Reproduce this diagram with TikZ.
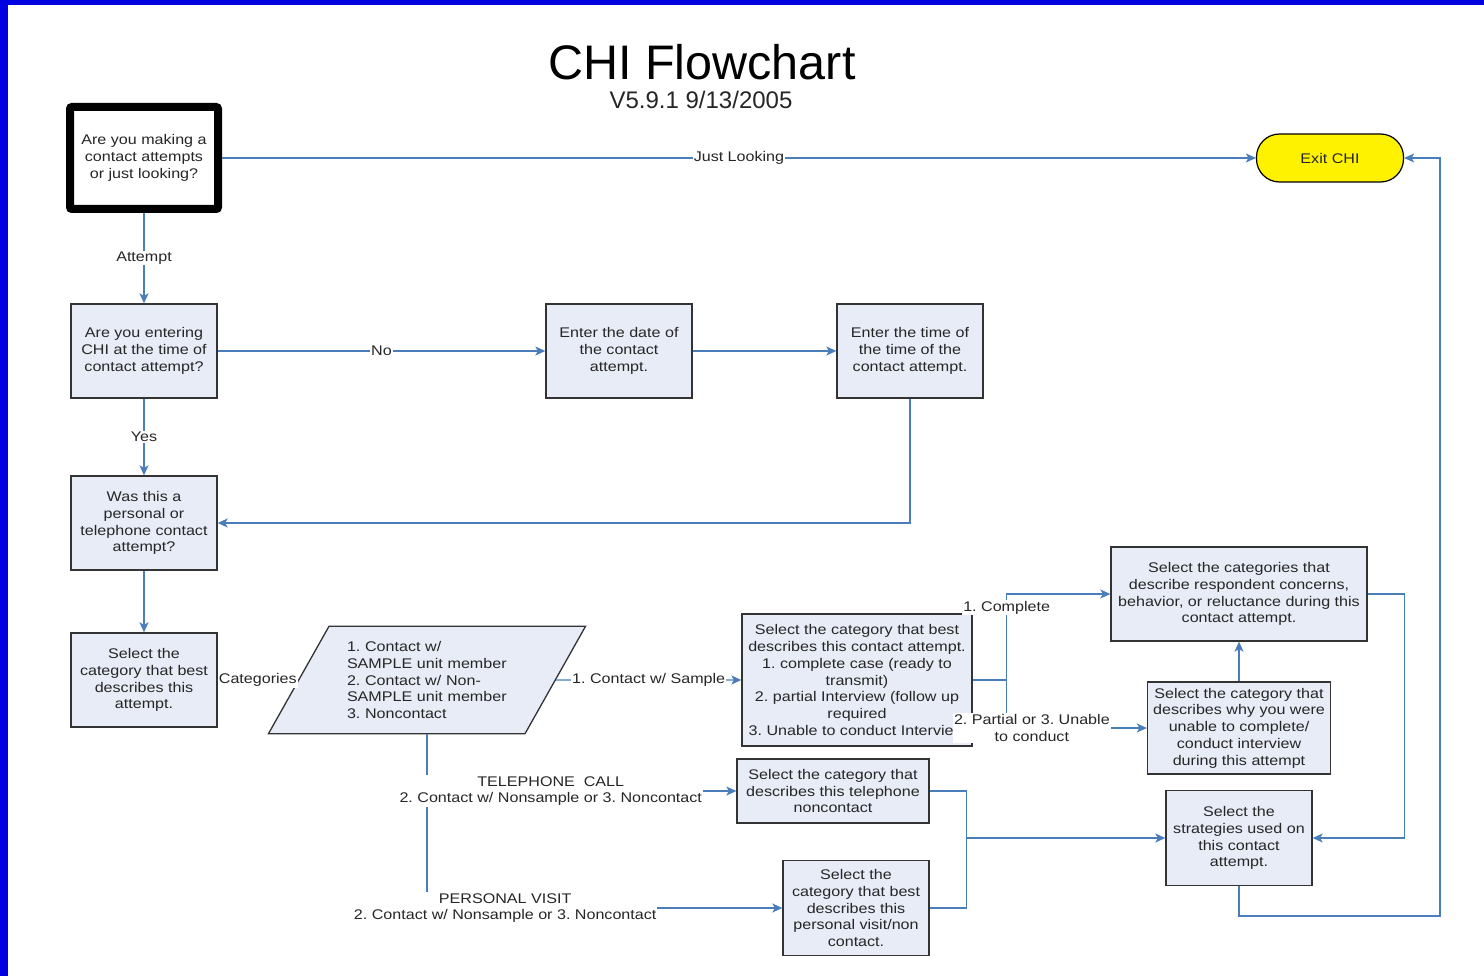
\documentclass[tikz,border=0pt]{standalone}
\usepackage{fontspec}
\setmainfont{Liberation Sans}
\newfontfamily\widesans{Liberation Sans}[FakeStretch=1.15]
\usetikzlibrary{arrows.meta,shapes.geometric}
\definecolor{flowblue}{RGB}{74,126,187}
\definecolor{boxfill}{RGB}{231,236,247}
\definecolor{edgeblue}{RGB}{0,0,224}
\newcommand\chifont{\widesans\frenchspacing\fontsize{14}{16.8}\selectfont}
\begin{document}
\begin{tikzpicture}[x=1pt,y=-1pt,
  box/.style={draw=black!80,fill=boxfill,line width=1.3pt,minimum width=146,minimum height=94,align=center,inner sep=0,font=\chifont,text=black!85},
  flow/.style={draw=flowblue,line width=1.4pt,-{Stealth[length=10pt,width=9pt,inset=2.5pt]}},
  link/.style={draw=flowblue,line width=1.4pt},
  lbl/.style={fill=white,inner sep=1pt,font=\chifont,text=black!85,align=center}]
\useasboundingbox (0,0) rectangle (1484,976);
\fill[white] (0,0) rectangle (1484,976);
\fill[edgeblue] (0,0) rectangle (1484,5);
\fill[edgeblue] (0,0) rectangle (8,976);
\node[font=\fontsize{48.5}{56}\selectfont] (title) at (702,62) {CHI Flowchart};
\node[font=\fontsize{24}{28}\selectfont,text=black!85] (version) at (701,100) {V5.9.1 9/13/2005};

\node[box,line width=8pt,fill=white,draw=black,rounded corners=2pt,minimum width=148,minimum height=102] (look) at (144,158) {Are you making a\\contact attempts\\or just looking?};
\node[box,fill=yellow,draw=black,rounded corners=23pt,minimum width=147,minimum height=48,line width=1.2pt] (exit) at (1330,158) {Exit CHI};
\node[box] (entering) at (144,351) {Are you entering\\CHI at the time of\\contact attempt?};
\node[box] (date) at (619,351) {Enter the date of\\the contact\\attempt.};
\node[box] (time) at (910,351) {Enter the time of\\the time of the\\contact attempt.};
\node[box] (mode) at (144,523) {Was this a\\personal or\\telephone contact\\attempt?};
\node[box] (select) at (144,680) {Select the\\category that best\\describes this\\attempt.};
\node[box,trapezium,trapezium left angle=60.6,trapezium right angle=119.4,minimum width=1,minimum height=1,text width=160,inner xsep=18,inner ysep=15,align=left] (categ) at (427,680) {1. Contact w/\\SAMPLE unit member\\2. Contact w/ Non-\\SAMPLE unit member\\3. Noncontact};
\node[box,minimum width=230,minimum height=132] (result) at (857,680) {Select the category that best\\describes this contact attempt.\\1. complete case (ready to\\transmit)\\2. partial Interview (follow up\\required\\3. Unable to conduct Interview};
\node[box,minimum width=256] (concern) at (1239,594) {Select the categories that\\describe respondent concerns,\\behavior, or reluctance during this\\contact attempt.};
\node[box,minimum width=183,minimum height=92] (unable) at (1239,728) {Select the category that\\describes why you were\\unable to complete/\\conduct interview\\during this attempt};
\node[box,minimum height=95] (strategy) at (1239,838) {Select the\\strategies used on\\this contact\\attempt.};
\node[box,minimum width=192,minimum height=64] (phone) at (833,791) {Select the category that\\describes this telephone\\noncontact};
\node[box,minimum height=95] (visit) at (856,908) {Select the\\category that best\\describes this\\personal visit/non\\contact.};

\draw[flow] (look) -- node[lbl]{Just Looking} (exit);
\draw[flow] (look) -- node[lbl]{Attempt} (entering);
\draw[flow] (entering) -- node[lbl]{No} (date);
\draw[flow] (date) -- (time);
\draw[flow] (time) |- (mode);
\draw[flow] (entering) -- node[lbl]{Yes} (mode);
\draw[flow] (mode) -- (select);
\draw[flow] (select) -- node[lbl]{Categories} (categ);
\draw[flow] (categ) -- node[lbl]{1. Contact w/ Sample} (result);
\draw[link] (result.east) -- ++(34,0) coordinate (split);
\draw[flow] (split) |- node[lbl,pos=0.42]{1. Complete} (concern);
\draw[flow] (split) |- node[lbl,pos=0.59]{2. Partial or 3. Unable\\to conduct} (unable);
\draw[flow] (unable) -- (concern);
\draw[flow] (concern.east) -- ++(37,0) |- (strategy);
\draw[flow] (strategy.south) -- ++(0,30) -| ([xshift=36pt]exit.east) -- (exit.east);
\draw[flow] (categ.south) |- node[lbl,pos=0.61]{PERSONAL VISIT\\2. Contact w/ Nonsample or 3. Noncontact} (visit);
\draw[flow] (categ.south) |- node[lbl,pos=0.7]{TELEPHONE\ \ CALL\\2. Contact w/ Nonsample or 3. Noncontact} (phone);
\draw[link] (phone.east) -- ++(37,0) coordinate (merge) |- (visit.east);
\draw[flow] (merge |- strategy.west) -- (strategy);
\end{tikzpicture}
\end{document}
